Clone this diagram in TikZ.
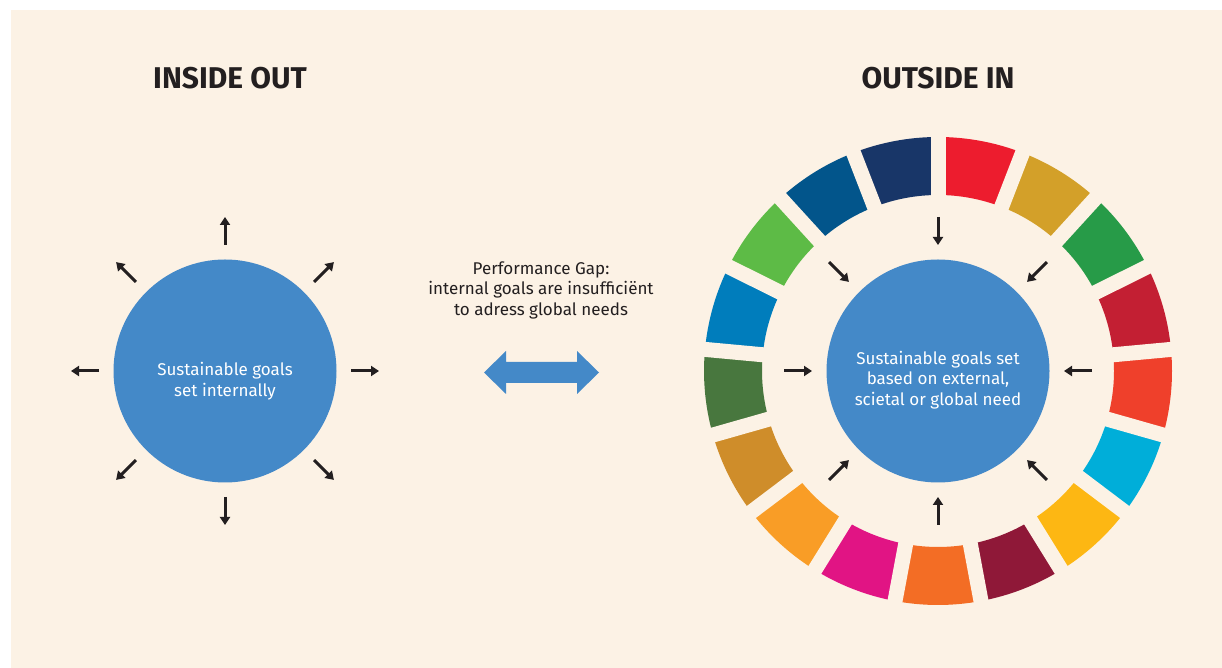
\documentclass[tikz,border=0pt]{standalone}
\usepackage{fontspec}
\setmainfont{Fira Sans}
\usepackage{tikz}
\usetikzlibrary{calc,arrows.meta}

\definecolor{paper}{HTML}{FCF2E5}
\definecolor{goalblue}{HTML}{4489C8}
\definecolor{ink}{HTML}{231F20}
\definecolor{sdgA}{HTML}{ED1C2E}
\definecolor{sdgB}{HTML}{D3A029}
\definecolor{sdgC}{HTML}{279B48}
\definecolor{sdgD}{HTML}{C31F33}
\definecolor{sdgE}{HTML}{EF402B}
\definecolor{sdgF}{HTML}{00AED9}
\definecolor{sdgG}{HTML}{FDB713}
\definecolor{sdgH}{HTML}{8F1838}
\definecolor{sdgI}{HTML}{F36D25}
\definecolor{sdgJ}{HTML}{E11484}
\definecolor{sdgK}{HTML}{F99D26}
\definecolor{sdgL}{HTML}{CF8D2A}
\definecolor{sdgM}{HTML}{48773E}
\definecolor{sdgN}{HTML}{007DBC}
\definecolor{sdgO}{HTML}{5DBB46}
\definecolor{sdgP}{HTML}{02558B}
\definecolor{sdgQ}{HTML}{183668}

\begin{document}
\begin{tikzpicture}
  [x=1pt,y=1pt,
   goal/.style={circle,fill=goalblue,minimum size=223pt,inner sep=0pt},
   goaltext/.style={text=white,align=center,font=\fontsize{17}{20.5}\selectfont},
   title/.style={text=ink,font=\fontsize{30}{32}\selectfont\bfseries},
   small arrow/.style={draw=ink,line width=3pt,-{Triangle[width=10pt,length=8pt]}}]
  \useasboundingbox (0,0) rectangle (1222,668);
  \fill[paper] (11,0) rectangle (1222,658);

  \node[title] (t1) at (230,590) {INSIDE OUT};
  \node[title] (t2) at (938,590) {OUTSIDE IN};

  \node[goal] (io) at (225,297) {};
  \node[goal] (oi) at (938,297) {};
  \node[goaltext] (io-text) at (225,287) {Sustainable goals\\set internally};
  \node[goaltext] (oi-text) at (938,288) {Sustainable goals set\\based on external,\\scietal or global need};

  \node[text=ink,align=center,font=\fontsize{17}{20.5}\selectfont] (gap) at (541,378)
    {Performance Gap:\\internal goals are insufficiënt\\to adress global needs};

  \coordinate (gc) at (541.5,295.5);
  \fill[goalblue] ($(gc)+(-57.5,0)$) -- ++(22,21.5) -- ++(0,-11) -- ++(71,0) -- ++(0,11)
    -- ++(22,-21.5) -- ++(-22,-21.5) -- ++(0,11) -- ++(-71,0) -- ++(0,-11) -- cycle;

  \foreach \c [count=\i] in {sdgA,sdgB,sdgC,sdgD,sdgE,sdgF,sdgG,sdgH,sdgI,sdgJ,sdgK,sdgL,sdgM,sdgN,sdgO,sdgP,sdgQ}{
    \pgfmathsetmacro\aS{90-(\i-1)*360/17}
    \pgfmathsetmacro\aE{90-\i*360/17}
    \fill[\c] ($(oi.center)+(\aS:234pt)$) arc[start angle=\aS,end angle=\aE,radius=234pt]
      -- ($(oi.center)+(\aE:176pt)$) arc[start angle=\aE,end angle=\aS,radius=176pt] -- cycle;
  }
  \foreach \k in {0,...,16}
    \draw[paper,line width=15pt] ($(oi.center)+(90-\k*360/17:168pt)$) -- ($(oi.center)+(90-\k*360/17:242pt)$);

  \foreach \a in {0,45,...,315}{
    \coordinate (io-a\a) at ($(io.center)+(\a:126pt)$);
    \coordinate (io-b\a) at ($(io.center)+(\a:154pt)$);
    \coordinate (oi-a\a) at ($(oi.center)+(\a:126pt)$);
    \coordinate (oi-b\a) at ($(oi.center)+(\a:154pt)$);
    \draw[small arrow] (io-a\a) -- (io-b\a);
    \draw[small arrow] (oi-b\a) -- (oi-a\a);
  }
\end{tikzpicture}
\end{document}
